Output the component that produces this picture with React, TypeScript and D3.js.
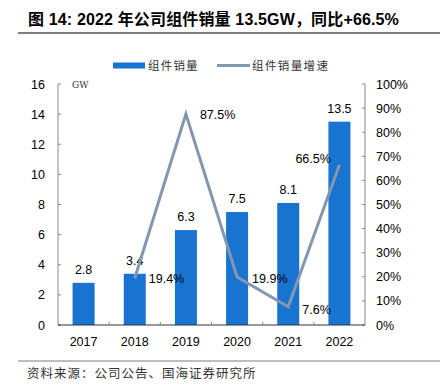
import * as d3 from "d3";

const years = ["2017", "2018", "2019", "2020", "2021", "2022"];
const sales = [2.8, 3.4, 6.3, 7.5, 8.1, 13.5];
const growthYears = ["2018", "2019", "2020", "2021", "2022"];
const growth = [19.4, 87.5, 19.9, 7.6, 66.5];
// label offsets for growth values (dx, dy) in px
const growthLabelOffset: [number, number][] = [
	[14, 5],
	[14, 5],
	[15, 6],
	[14, 7],
	[-44, -2],
];
const leftTicks = [0, 2, 4, 6, 8, 10, 12, 14, 16];
const rightTicks = [0, 10, 20, 30, 40, 50, 60, 70, 80, 90, 100];

const W = 440;
const H = 387;
const plot = { left: 58, right: 365, top: 84, bottom: 325 };
const barColor = "#1874D0";
const lineColor = "#8497B0";
const font = "Arial, 'Liberation Sans', 'Noto Sans CJK SC', sans-serif";
const cjk = "'Noto Sans CJK SC', sans-serif";

export default function App() {
	const x = d3
		.scaleBand<string>()
		.domain(years)
		.range([plot.left, plot.right])
		.paddingInner(0.57)
		.paddingOuter(0.285);
	const band = (plot.right - plot.left) / years.length;
	const cx = (y: string) => plot.left + band * (years.indexOf(y) + 0.5);
	const yL = d3.scaleLinear().domain([0, 16]).range([plot.bottom, plot.top]);
	const yR = d3.scaleLinear().domain([0, 100]).range([plot.bottom, plot.top]);

	const line = d3
		.line<number>()
		.x((_, i) => cx(growthYears[i]))
		.y((d) => yR(d));

	return (
		<svg
			width={W}
			height={H}
			style={{ position: "absolute", left: 0, top: 0, background: "#fff" }}
			fontFamily={font}
		>
			<text x={28} y={25} fontSize={16} fontWeight="bold" fill="#000" letterSpacing={0.15}>
				图 14: 2022 年公司组件销量 13.5GW，同比+66.5%
			</text>
			<line x1={18} x2={440} y1={33} y2={33} stroke="#7f7f7f" strokeWidth={2} />

			{/* legend */}
			<rect x={113} y={62.5} width={32} height={6} fill={barColor} />
			<text x={148} y={70} fontSize={11.5} fill="#333" fontFamily={cjk} letterSpacing={1.2}>
				组件销量
			</text>
			<line x1={217} x2={250} y1={65.5} y2={65.5} stroke={lineColor} strokeWidth={3} />
			<text x={252} y={70} fontSize={11.5} fill="#333" fontFamily={cjk} letterSpacing={1.4}>
				组件销量增速
			</text>

			{/* left axis */}
			<line x1={plot.left} x2={plot.left} y1={plot.top} y2={plot.bottom} stroke="#888" />
			{leftTicks.map((t) => (
				<g key={t}>
					<line x1={plot.left} x2={plot.left + 3} y1={yL(t)} y2={yL(t)} stroke="#888" />
					<text x={45} y={yL(t) + 4.5} fontSize={12.5} textAnchor="end" fill="#000">
						{t}
					</text>
				</g>
			))}
			<text x={72} y={88} fontSize={9} fill="#333" fontFamily="'DejaVu Serif', serif">
				GW
			</text>

			{/* right axis */}
			<line x1={plot.right} x2={plot.right} y1={plot.top} y2={plot.bottom} stroke="#888" />
			{rightTicks.map((t) => (
				<g key={t}>
					<line x1={plot.right - 3} x2={plot.right} y1={yR(t)} y2={yR(t)} stroke="#888" />
					<text x={376} y={yR(t) + 4.5} fontSize={12.5} fill="#000">
						{t}%
					</text>
				</g>
			))}

			{/* bars */}
			{years.map((yr, i) => (
				<g key={yr}>
					<rect
						x={x(yr)}
						y={yL(sales[i])}
						width={x.bandwidth()}
						height={plot.bottom - yL(sales[i])}
						fill={barColor}
					/>
					<text
						x={cx(yr)}
						y={yL(sales[i]) - 9}
						fontSize={12.5}
						textAnchor="middle"
						fill="#000"
					>
						{sales[i].toFixed(1)}
					</text>
				</g>
			))}

			{/* x axis */}
			<line x1={plot.left} x2={plot.right} y1={plot.bottom} y2={plot.bottom} stroke="#333" />
			{years.slice(1).map((yr) => (
				<line
					key={yr}
					x1={cx(yr) - band / 2}
					x2={cx(yr) - band / 2}
					y1={plot.bottom}
					y2={plot.bottom - 3}
					stroke="#888"
				/>
			))}
			{years.map((yr) => (
				<text key={yr} x={cx(yr)} y={346} fontSize={12.5} textAnchor="middle" fill="#000">
					{yr}
				</text>
			))}

			{/* growth line */}
			<path
				d={line(growth) ?? ""}
				fill="none"
				stroke={lineColor}
				strokeWidth={3}
				strokeLinejoin="miter"
			/>
			{growth.map((g, i) => (
				<text
					key={i}
					x={cx(growthYears[i]) + growthLabelOffset[i][0]}
					y={yR(g) + growthLabelOffset[i][1]}
					fontSize={12.5}
					fill="#000"
				>
					{g.toFixed(1)}%
				</text>
			))}

			<line x1={18} x2={440} y1={361} y2={361} stroke="#7f7f7f" strokeWidth={1.2} />
			<text x={27} y={378} fontSize={12.5} fill="#333" fontFamily={cjk} letterSpacing={1.0}>
				资料来源：公司公告、国海证券研究所
			</text>
		</svg>
	);
}
